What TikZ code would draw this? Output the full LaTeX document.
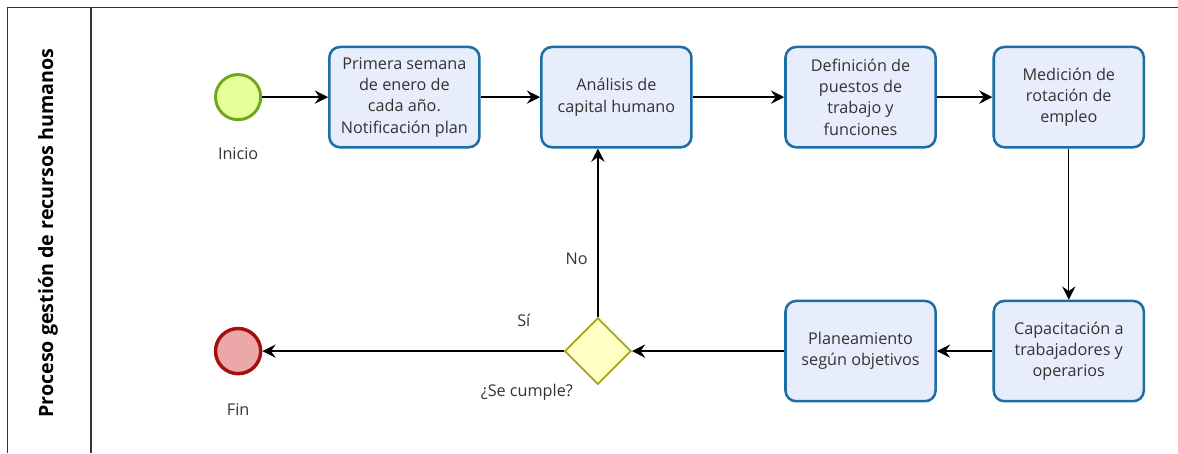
\documentclass[tikz,border=0pt]{standalone}
\usepackage{fontspec}
\setmainfont{Open Sans}
\usetikzlibrary{shapes.geometric, arrows.meta}
\definecolor{taskblue}{HTML}{1C6EA4}
\definecolor{taskfill}{HTML}{E8EDFC}
\definecolor{startgreen}{HTML}{6CA81E}
\definecolor{startfill}{HTML}{E6FF99}
\definecolor{endred}{HTML}{A50F0F}
\definecolor{endfill}{HTML}{ECA8A8}
\definecolor{gateolive}{HTML}{A5A51A}
\definecolor{gatefill}{HTML}{FFFFC4}
\definecolor{textgray}{HTML}{333333}
\tikzstyle{taskbox} = [rectangle, rounded corners=8pt, minimum width=113pt, minimum height=75.5pt, draw=taskblue, fill=taskfill, line width=1.9pt, text=textgray, inner sep=2pt, font=\fontsize{12.2}{16}\selectfont]
\tikzstyle{startevent} = [circle, minimum size=34pt, draw=startgreen, fill=startfill, line width=2.2pt]
\tikzstyle{endevent} = [circle, minimum size=34pt, draw=endred, fill=endfill, line width=2.6pt]
\tikzstyle{gateway} = [diamond, inner sep=0pt, minimum width=50pt, minimum height=50pt, draw=gateolive, fill=gatefill, line width=1.3pt]
\tikzstyle{eventtext} = [text=textgray, font=\fontsize{12.2}{16}\selectfont]
\tikzstyle{arrow} = [line width=1pt, ->, >={Stealth[length=10pt, width=10pt, inset=3.5pt]}]

\begin{document}
\begin{tikzpicture}[align=center, node distance=1.5cm]
      \useasboundingbox (-6.30,-9.42) rectangle (24.87,2.57);

      % pool and lane
      \draw [line width=1pt, textgray] (-6.11,-9.42) |- (24.87,2.38);
      \draw [line width=1pt, textgray] (-3.89,2.38) -- (-3.89,-9.42);
      \node (lane) [rotate=90, font=\fontsize{14.8}{17}\selectfont\bfseries] at (-5.03,-3.60) {Proceso gestión de recursos humanos};

      % top row
      \node (inicio) [startevent] {};
      \node (primera) [taskbox, right of=inicio, xshift=2.9cm] {Primera semana\\ de enero de\\ cada año.\\ Notificación plan};
      \node (analisis) [taskbox, right of=primera, xshift=4.11cm] {Análisis de\\ capital humano};
      \node (definicion) [taskbox, right of=analisis, xshift=4.96cm] {Definición de\\ puestos de\\ trabajo y\\ funciones};
      \node (medicion) [taskbox, right of=definicion, xshift=4.01cm] {Medición de\\ rotación de\\ empleo};

      % bottom row
      \node (fin) [endevent, below of=inicio, yshift=-5.22cm] {};
      \node (cumple) [gateway, right of=fin, xshift=8.02cm] {};
      \node (planeamiento) [taskbox, below of=definicion, yshift=-5.22cm] {Planeamiento\\ según objetivos};
      \node (capacitacion) [taskbox, below of=medicion, yshift=-5.22cm] {Capacitación a\\ trabajadores y\\ operarios};

      % labels
      \node (iniciotext) [eventtext, below of=inicio] {Inicio};
      \node (fintext) [eventtext, below of=fin, yshift=-0.06cm] {Fin};
      \node (notext) [eventtext, above of=cumple, xshift=-0.56cm, yshift=0.95cm] {No};
      \node (sitext) [eventtext, above of=cumple, xshift=-1.96cm, yshift=-0.68cm] {Sí};
      \node (cumpletext) [eventtext, below of=cumple, xshift=-1.88cm, yshift=0.42cm] {¿Se cumple?};

      \draw [arrow] (inicio) -- (primera);
      \draw [arrow] (primera) -- (analisis);
      \draw [arrow] (analisis) -- (definicion);
      \draw [arrow] (definicion) -- (medicion);
      \draw [arrow] (medicion) -- (capacitacion);
      \draw [arrow] (capacitacion) -- (planeamiento);
      \draw [arrow] (planeamiento) -- (cumple);
      \draw [arrow] (cumple) -- (fin);
      \draw [arrow] (cumple.north) -- (cumple.north |- analisis.south);
\end{tikzpicture}
\end{document}
